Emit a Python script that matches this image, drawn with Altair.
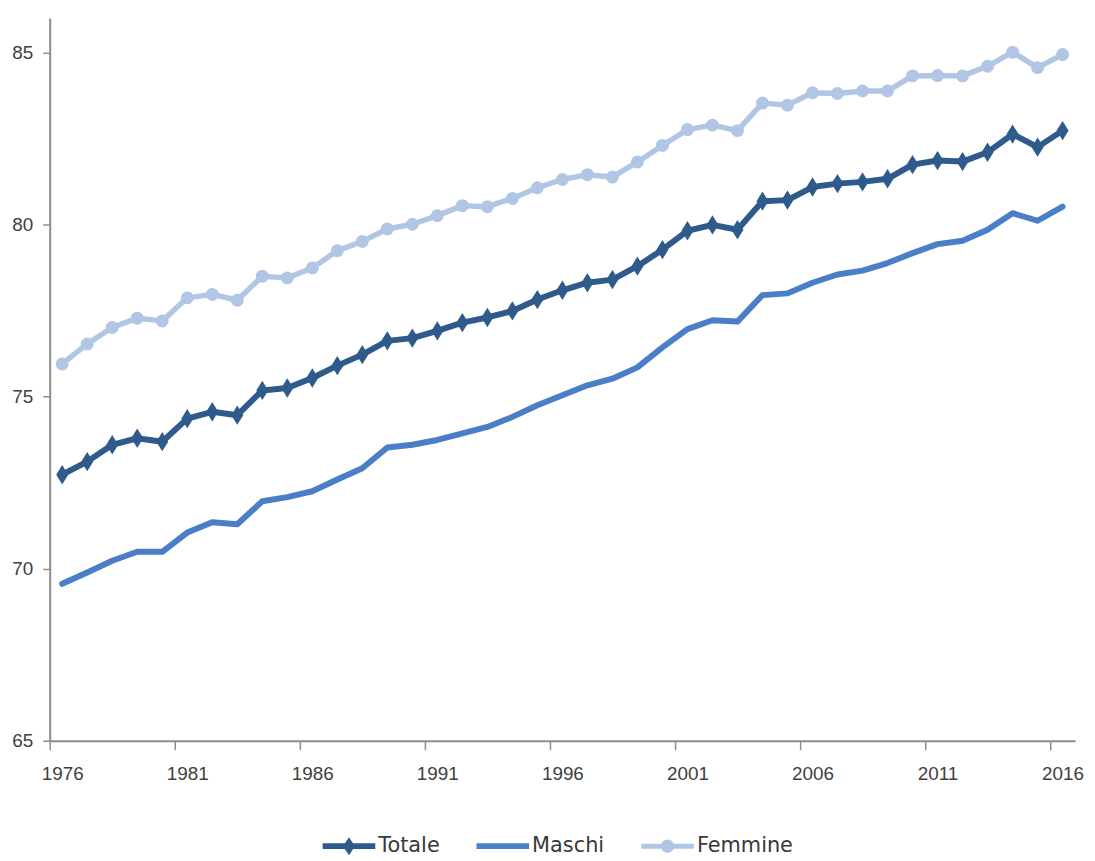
import altair as alt
import pandas as pd

# ---- data ----
anni = list(range(1976, 2017))
totale = [72.73, 73.11, 73.60, 73.79, 73.69, 74.36, 74.56, 74.46, 75.18, 75.25,
          75.54, 75.90, 76.22, 76.62, 76.70, 76.91, 77.15, 77.30, 77.49, 77.82,
          78.09, 78.31, 78.40, 78.79, 79.27, 79.82, 79.99, 79.85, 80.68, 80.71,
          81.09, 81.19, 81.24, 81.33, 81.74, 81.86, 81.83, 82.10, 82.63, 82.25, 82.73]
maschi = [69.56, 69.89, 70.23, 70.49, 70.49, 71.05, 71.35, 71.29, 71.96, 72.08,
          72.25, 72.59, 72.92, 73.52, 73.60, 73.74, 73.93, 74.12, 74.41, 74.75,
          75.04, 75.33, 75.52, 75.85, 76.43, 76.96, 77.22, 77.18, 77.95, 78.00,
          78.31, 78.55, 78.66, 78.88, 79.17, 79.43, 79.53, 79.85, 80.33, 80.11, 80.52]
femmine = [75.95, 76.53, 77.01, 77.28, 77.20, 77.87, 77.97, 77.80, 78.50, 78.45,
           78.74, 79.24, 79.51, 79.87, 80.01, 80.26, 80.55, 80.52, 80.76, 81.07,
           81.31, 81.45, 81.38, 81.82, 82.30, 82.76, 82.89, 82.73, 83.53, 83.47,
           83.83, 83.81, 83.88, 83.88, 84.32, 84.33, 84.32, 84.60, 85.01, 84.56, 84.94]
serie = ["Totale", "Maschi", "Femmine"]
colori = ["#2E5A8C", "#4A7EC6", "#B0C6E4"]
spessori = [6, 6, 5.5]
tick_anni = [1976, 1981, 1986, 1991, 1996, 2001, 2006, 2011, 2016]
tick_y = [65, 70, 75, 80, 85]

rows = []
for nome, valori in zip(serie, [totale, maschi, femmine]):
    for a, v in zip(anni, valori):
        rows.append({"anno": a, "valore": v, "serie": nome})
df = pd.DataFrame(rows)

# colour / width per series in the alphabetical order used by data-driven domains
ordine_alfa = sorted(serie)
colori_alfa = [colori[serie.index(s)] for s in ordine_alfa]
spessori_alfa = [spessori[serie.index(s)] for s in ordine_alfa]

# ---- symbols ----
DIAMANTE = "M0,-1L0.62,0L0,1L-0.62,0Z"
LEG_TOT = "M-1,-0.11L1,-0.11L1,0.11L-1,0.11Z M0,-0.34L0.23,0L0,0.34L-0.23,0Z"
LEG_MAS = "M-1,-0.11L1,-0.11L1,0.11L-1,0.11Z"
LEG_FEM = ("M-1,-0.095L1,-0.095L1,0.095L-1,0.095Z "
           "M-0.25,0A0.25,0.25 0 1,1 0.25,0A0.25,0.25 0 1,1 -0.25,0Z")
AX_FONT = "Liberation Sans"

x_scale = alt.Scale(domain=[1975.5, 2016.5], nice=False, zero=False)
y_scale = alt.Scale(domain=[65, 86], nice=False, zero=False)

x_axis = alt.Axis(
    values=[t - 0.5 for t in tick_anni],
    labelExpr="format(datum.value + 0.5, 'd')",
    labelOffset=12.6, labelFlush=False, labelOverlap=False,
    title=None, grid=False, tickSize=9, labelPadding=15,
)
y_axis = alt.Axis(values=tick_y, title=None, grid=False, tickSize=7,
                  labelPadding=10, labelFlush=False, labelOverlap=False)

base = alt.Chart(df).encode(
    x=alt.X("anno:Q", scale=x_scale, axis=x_axis),
    y=alt.Y("valore:Q", scale=y_scale, axis=y_axis),
)

color_scale = alt.Scale(range=colori_alfa)

lines = base.mark_line(strokeJoin="round", strokeCap="round").encode(
    color=alt.Color("serie:N", scale=color_scale, legend=None),
    strokeWidth=alt.StrokeWidth("serie:N", scale=alt.Scale(type="ordinal", range=spessori_alfa), legend=None),
)

diamonds = base.transform_filter(alt.datum.serie == "Totale").mark_point(
    shape=DIAMANTE, filled=True, size=380, opacity=1
).encode(color=alt.Color("serie:N", scale=color_scale, legend=None))

circles = base.transform_filter(alt.datum.serie == "Femmine").mark_circle(
    size=170, opacity=1
).encode(color=alt.Color("serie:N", scale=color_scale, legend=None))

leg = alt.Legend(
    title=None, orient="none", legendX=275, legendY=807.5, direction="horizontal",
    symbolSize=2809, symbolOpacity=1, symbolStrokeWidth=0,
    labelFont="DejaVu Sans", labelFontSize=21, labelColor="#383838",
    labelOffset=3, columnPadding=37, padding=0,
)

# invisible layer that only carries the legend (line + marker symbols)
legend_layer = base.mark_point(filled=True, opacity=0).encode(
    fill=alt.Fill("serie:N", scale=alt.Scale(domain=serie, range=colori), legend=leg),
    shape=alt.Shape("serie:N", scale=alt.Scale(domain=serie, range=[LEG_TOT, LEG_MAS, LEG_FEM]), legend=leg),
)

chart = alt.layer(lines, diamonds, circles, legend_layer).properties(
    width=1033, height=728,
    autosize=alt.AutoSizeParams(type="none"),
    padding={"left": 42, "top": 7, "right": 12, "bottom": 118},
    background="white",
).configure_view(stroke=None).configure_axis(
    domainColor="#8c8c8c", domainWidth=2, tickColor="#8c8c8c", tickWidth=1.5,
    labelFont=AX_FONT, labelFontSize=19, labelColor="#404040",
)

chart.save("out.html", embed_options={"renderer": "svg", "actions": False})
